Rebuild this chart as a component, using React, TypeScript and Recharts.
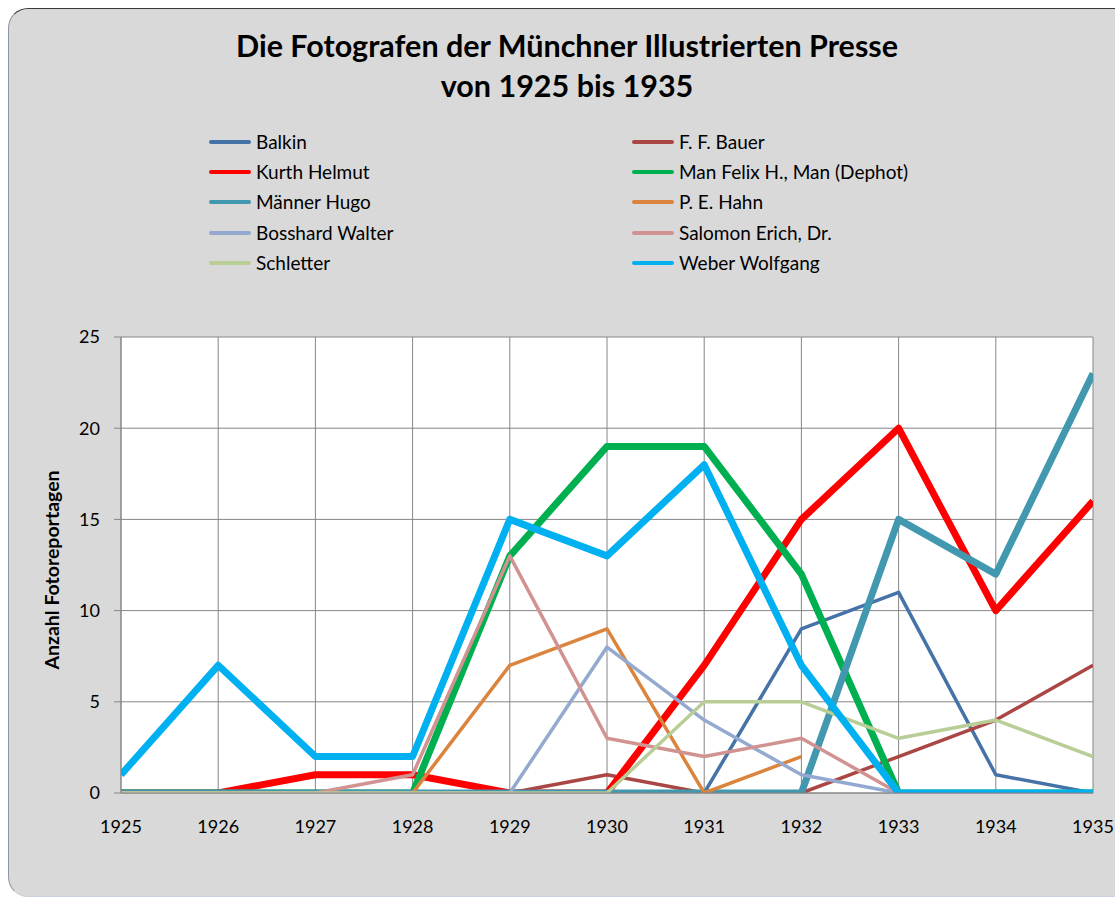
import React from 'react';
import { LineChart, Line, XAxis, YAxis, CartesianGrid } from 'recharts';

const years = [1925, 1926, 1927, 1928, 1929, 1930, 1931, 1932, 1933, 1934, 1935];
const balkin = [0, 0, 0, 0, 0, 0, 0, 9, 11, 1, 0];
const bauer = [0, 0, 0, 0, 0, 1, 0, 0, 2, 4, 7];
const kurth = [0, 0, 1, 1, 0, 0, 7, 15, 20, 10, 16];
const manFelix = [0, 0, 0, 0, 13, 19, 19, 12, 0, 0, 0];
const maenner = [0, 0, 0, 0, 0, 0, 0, 0, 15, 12, 23];
const hahn = [0, 0, 0, 0, 7, 9, 0, 2, null, null, null];
const bosshard = [0, 0, 0, 0, 0, 8, 4, 1, 0, 0, 0];
const salomon = [0, 0, 0, 1, 13, 3, 2, 3, 0, 0, 0];
const schletter = [0, 0, 0, 0, 0, 0, 5, 5, 3, 4, 2];
const weber = [1, 7, 2, 2, 15, 13, 18, 7, 0, 0, 0];

const yTicks = [0, 5, 10, 15, 20, 25];

const series = [
  { key: 'balkin', name: 'Balkin', values: balkin, color: '#4572A7', width: 3.5 },
  { key: 'bauer', name: 'F. F. Bauer', values: bauer, color: '#AA4643', width: 3.5 },
  { key: 'kurth', name: 'Kurth Helmut', values: kurth, color: '#FF0000', width: 7 },
  { key: 'manFelix', name: 'Man Felix H., Man (Dephot)', values: manFelix, color: '#00B050', width: 7 },
  { key: 'maenner', name: 'Männer Hugo', values: maenner, color: '#4198AF', width: 7 },
  { key: 'hahn', name: 'P. E. Hahn', values: hahn, color: '#DB843D', width: 3.5 },
  { key: 'bosshard', name: 'Bosshard Walter', values: bosshard, color: '#93A9CF', width: 3.5 },
  { key: 'salomon', name: 'Salomon Erich, Dr.', values: salomon, color: '#D19392', width: 3.5 },
  { key: 'schletter', name: 'Schletter', values: schletter, color: '#B9CD96', width: 3.5 },
  { key: 'weber', name: 'Weber Wolfgang', values: weber, color: '#00B0F0', width: 7 },
];

const data = years.map((year, i) => {
  const row: Record<string, number | null> = { year };
  series.forEach((s) => {
    row[s.key] = s.values[i];
  });
  return row;
});

const FONT = 'Lato, "Open Sans", sans-serif';

export default function App() {
  return (
    <div
      style={{
        position: 'fixed',
        left: 0,
        top: 0,
        width: 1115,
        height: 899,
        overflow: 'hidden',
        background: '#ffffff',
        fontFamily: FONT,
      }}
    >
      <div
        style={{
          position: 'absolute',
          left: 8,
          top: 8,
          width: 1150,
          height: 889,
          boxSizing: 'border-box',
          background: '#D9D9D9',
          borderTop: '1.5px solid #3a3a3a',
          borderLeft: '1.5px solid #8d96a3',
          borderBottom: '1.5px solid #c9d2de',
          borderRadius: 20,
        }}
      />
      <div
        style={{
          position: 'absolute',
          left: 0,
          top: 25,
          width: 1134,
          textAlign: 'center',
          fontWeight: 700,
          fontSize: 30.5,
          lineHeight: '40px',
          color: '#000',
        }}
      >
        <div>Die Fotografen der Münchner Illustrierten Presse</div>
        <div>von 1925 bis 1935</div>
      </div>
      {series.map((s, i) => {
        const col = i % 2;
        const row = Math.floor(i / 2);
        const lineLeft = col === 0 ? 209 : 632;
        const textLeft = col === 0 ? 256 : 679;
        const cy = 142 + row * 30.2;
        return (
          <React.Fragment key={s.key}>
            <div
              style={{
                position: 'absolute',
                left: lineLeft,
                top: cy - 2,
                width: 42,
                height: 4,
                borderRadius: 2,
                background: s.color,
              }}
            />
            <div
              style={{
                position: 'absolute',
                left: textLeft,
                top: cy - 12,
                height: 24,
                lineHeight: '24px',
                fontSize: 19,
                color: '#000',
                whiteSpace: 'nowrap',
              }}
            >
              {s.name}
            </div>
          </React.Fragment>
        );
      })}
      <div
        style={{
          position: 'absolute',
          left: 52 - 150,
          top: 570 - 12,
          width: 300,
          height: 24,
          lineHeight: '24px',
          textAlign: 'center',
          fontWeight: 700,
          fontSize: 19.5,
          transform: 'rotate(-90deg)',
          color: '#000',
        }}
      >
        Anzahl Fotoreportagen
      </div>
      <div style={{ position: 'absolute', left: 0, top: 0 }}>
        <LineChart
          width={1150}
          height={899}
          data={data}
          margin={{ top: 337, left: 61, right: 57, bottom: 56 }}
        >
          <CartesianGrid stroke="#868686" strokeWidth={1} fill="#ffffff" fillOpacity={1} />
          <XAxis
            dataKey="year"
            type="number"
            domain={[1925, 1935]}
            ticks={years}
            allowDataOverflow
            height={50}
            tickSize={0}
            tickMargin={27}
            axisLine={{ stroke: '#868686' }}
            tick={{ fill: '#000', fontSize: 18, fontFamily: FONT }}
          />
          <YAxis
            type="number"
            domain={[0, 25]}
            ticks={yTicks}
            allowDataOverflow
            width={60}
            tickSize={7}
            tickMargin={14}
            axisLine={{ stroke: '#868686' }}
            tickLine={{ stroke: '#868686' }}
            tick={{ fill: '#000', fontSize: 18, fontFamily: FONT }}
          />
          {series.map((s) => (
            <Line
              key={s.key}
              type="linear"
              dataKey={s.key}
              name={s.name}
              stroke={s.color}
              strokeWidth={s.width}
              strokeLinejoin="round"
              dot={false}
              activeDot={false}
              isAnimationActive={false}
            />
          ))}
        </LineChart>
      </div>
    </div>
  );
}
